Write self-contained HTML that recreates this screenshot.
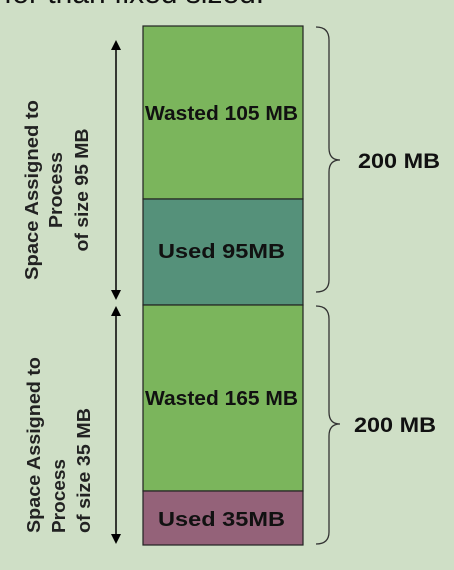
<!DOCTYPE html>
<html><head><meta charset="utf-8"><style>
html,body{margin:0;padding:0;background:#cfdfc6;}
svg{display:block;font-family:"Liberation Sans",sans-serif;}
</style></head><body>
<svg width="454" height="570" viewBox="0 0 454 570">
<rect width="454" height="570" fill="#cfdfc6"/>
<text x="4" y="3" font-size="30" fill="#111">for than fixed sized.</text>

<g stroke="#222" stroke-width="1.2">
<rect x="143" y="26" width="160" height="173" fill="#7bb55c"/>
<rect x="143" y="199" width="160" height="106" fill="#55917a"/>
<rect x="143" y="305" width="160" height="186" fill="#7bb55c"/>
<rect x="143" y="491" width="160" height="54" fill="#946279"/>
</g>
<g font-weight="bold" font-size="20" fill="#111">
<text x="145" y="120" textLength="153" lengthAdjust="spacingAndGlyphs">Wasted 105 MB</text>
<text x="158" y="258" textLength="127" lengthAdjust="spacingAndGlyphs">Used 95MB</text>
<text x="145" y="405" textLength="153" lengthAdjust="spacingAndGlyphs">Wasted 165 MB</text>
<text x="158" y="526" textLength="127" lengthAdjust="spacingAndGlyphs">Used 35MB</text>
</g>

<g stroke="#000" stroke-width="1.5" fill="#000">
<line x1="116" y1="44" x2="116" y2="296"/>
<polygon points="116,40 111,50 121,50" stroke="none"/>
<polygon points="116,300 111,290 121,290" stroke="none"/>
<line x1="116" y1="311" x2="116" y2="540"/>
<polygon points="116,306 111,316 121,316" stroke="none"/>
<polygon points="116,544 111,534 121,534" stroke="none"/>
</g>

<g fill="none" stroke="#333" stroke-width="1.3">
<path d="M316,27 Q329,27 329,40 L329,148 Q329,160 340,160 Q329,160 329,172 L329,280 Q329,292 316,292"/>
<path d="M316,306 Q329,306 329,319 L329,412 Q329,424 340,424 Q329,424 329,436 L329,532 Q329,544 316,544"/>
</g>
<g font-weight="bold" font-size="21" fill="#111">
<text x="358" y="168" textLength="82" lengthAdjust="spacingAndGlyphs">200 MB</text>
<text x="354" y="432" textLength="82" lengthAdjust="spacingAndGlyphs">200 MB</text>
</g>

<g font-weight="bold" font-size="18" fill="#222" text-anchor="middle" transform="translate(0,190) rotate(-90)">
<text x="0" y="38" textLength="180" lengthAdjust="spacingAndGlyphs">Space Assigned to</text>
<text x="0" y="62" textLength="76" lengthAdjust="spacingAndGlyphs">Process</text>
<text x="0" y="88" textLength="123" lengthAdjust="spacingAndGlyphs">of size 95 MB</text>
</g>
<g font-weight="bold" font-size="18" fill="#222" transform="translate(0,533) rotate(-90)">
<text x="0" y="40" textLength="176" lengthAdjust="spacingAndGlyphs">Space Assigned to</text>
<text x="0" y="65" textLength="74" lengthAdjust="spacingAndGlyphs">Process</text>
<text x="0" y="90" textLength="125" lengthAdjust="spacingAndGlyphs">of size 35 MB</text>
</g>
</svg>
</body></html>
